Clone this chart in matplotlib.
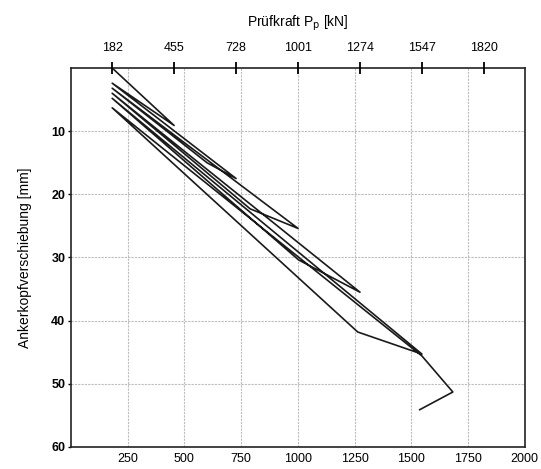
import matplotlib
matplotlib.use("Agg")
import matplotlib.pyplot as plt

plt.rcParams["font.family"] = ["Liberation Sans", "DejaVu Sans"]

# Load path (kN) and anchor head displacement (mm)
load = [182, 455, 182, 728, 600, 182, 1001, 790, 182, 1274, 1004, 182,
        1547, 1264, 182, 1547, 1683, 1537]
disp = [0.0, 9.1, 2.4, 17.5, 15.0, 3.2, 25.4, 22.3, 4.0, 35.5, 30.4, 4.8,
        45.3, 41.8, 6.3, 45.6, 51.3, 54.1]

bottom_ticks = [250, 500, 750, 1000, 1250, 1500, 1750, 2000]
top_ticks = [182, 455, 728, 1001, 1274, 1547, 1820]
y_ticks = [10, 20, 30, 40, 50, 60]

fig = plt.figure(figsize=(5.41, 4.69), dpi=100)
ax = fig.add_axes([0.131, 0.047, 0.839, 0.808])

ax.set_xlim(0, 2000)
ax.set_ylim(60, 0)

ax.set_xticks(bottom_ticks)
ax.set_xticklabels([str(t) for t in bottom_ticks], fontsize=9)
ax.set_yticks(y_ticks)
ax.set_yticklabels([str(t) for t in y_ticks], fontsize=9, fontweight="bold")
ax.tick_params(axis="x", length=0, pad=4)
ax.tick_params(axis="y", length=2, width=1, direction="out", pad=2)

ax.grid(True, color="#bdbdbd", linewidth=0.8, linestyle=(0, (2, 1)))
ax.set_axisbelow(True)

for sp in ax.spines.values():
    sp.set_linewidth(1.2)
    sp.set_color("#222222")

ax.plot(load, disp, color="#1a1a1a", linewidth=1.2)

ax.set_ylabel("Ankerkopfverschiebung [mm]", fontsize=10, labelpad=14)

top = ax.twiny()
top.set_xlim(ax.get_xlim())
top.set_xticks(top_ticks)
top.set_xticklabels([str(t) for t in top_ticks], fontsize=9)
top.tick_params(axis="x", direction="inout", length=8, width=1.3, pad=6)
top.set_xlabel(r"Prüfkraft P$_\mathrm{p}$ [kN]", fontsize=10, labelpad=11)
for sp in top.spines.values():
    sp.set_visible(False)

fig.savefig("out.png", dpi=100)
